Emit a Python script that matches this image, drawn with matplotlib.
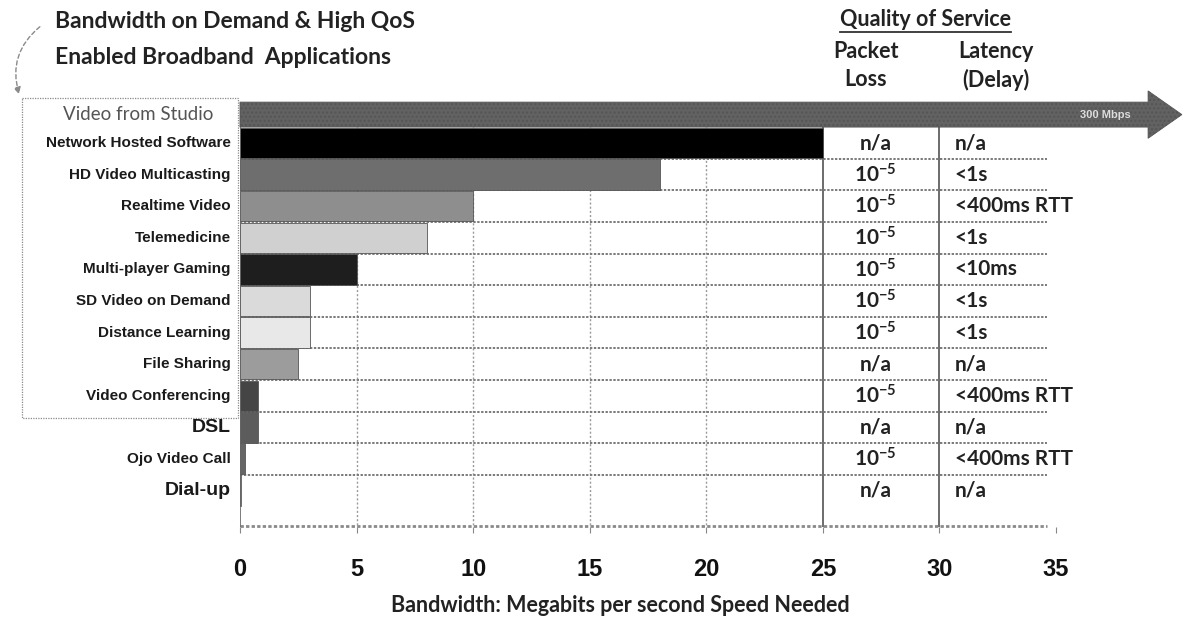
"""Bandwidth on demand: applications vs. speed needed, with QoS table."""
import matplotlib
matplotlib.use("Agg")
import matplotlib.pyplot as plt
import numpy as np
from matplotlib.lines import Line2D
from matplotlib.patches import FancyArrow, Rectangle

plt.rcParams["mathtext.fontset"] = "custom"
plt.rcParams["mathtext.bf"] = "Lato:bold"
plt.rcParams["mathtext.rm"] = "Lato:bold"
plt.rcParams["mathtext.default"] = "bf"

# ---- data -----------------------------------------------------------------
apps = [
    "Network Hosted Software", "HD Video Multicasting", "Realtime Video",
    "Telemedicine", "Multi-player Gaming", "SD Video on Demand",
    "Distance Learning", "File Sharing", "Video Conferencing", "DSL",
    "Ojo Video Call", "Dial-up",
]
mbps = [25, 18, 10, 8, 5, 3, 3, 2.5, 0.77, 0.77, 0.2, 0.056]
bar_colors = ["#000000", "#6e6e6e", "#8e8e8e", "#d0d0d0", "#1e1e1e", "#dadada",
              "#e8e8e8", "#9c9c9c", "#454545", "#5c5c5c", "#666666", "#ffffff"]
packet_loss = ["n/a", "10-5", "10-5", "10-5", "10-5", "10-5", "10-5",
               "n/a", "10-5", "n/a", "10-5", "n/a"]
latency = ["n/a", "<1s", "<400ms RTT", "<1s", "<10ms", "<1s", "<1s",
           "n/a", "<400ms RTT", "n/a", "<400ms RTT", "n/a"]
big_labels = {"DSL", "Dial-up"}
boxed_last = "Video Conferencing"

studio_label = "Video from Studio"
studio_mbps = 300          # off the scale, drawn as a capped arrow
studio_cap = 40.4          # where the arrow tip is drawn (axis units)
x_ticks = [0, 5, 10, 15, 20, 25, 30, 35]

# ---- figure ----------------------------------------------------------------
W, H = 1195, 618
fig = plt.figure(figsize=(W / 100, H / 100), dpi=100)
ax = fig.add_axes([240 / W, 1 - 527 / H, 816 / W, 432 / H])
ax.set_xlim(0, 35)
ax.set_ylim(12.15, -1.52)
for s in ax.spines.values():
    s.set_visible(False)

y = np.arange(len(apps))
studio_y = -0.9
bottom = ax.get_ylim()[0]
line_end = 34.6

# grid / table lines
ax.vlines([5, 10, 15, 20], -0.5, bottom, colors="#9a9a9a", lw=1.0,
          linestyles=(0, (1.5, 1.5)), zorder=1)
ax.vlines([25, 30], -0.5, bottom, colors="#444444", lw=1.1, zorder=1)
ax.hlines(y[:-1] + 0.5, 0, line_end, colors="#7a7a7a", lw=1.4,
          linestyles=(0, (1.2, 0.8)), zorder=1)
ax.hlines(bottom - 0.02, 0, line_end, colors="#8a8a8a", lw=2.0,
          linestyles=(0, (1.2, 0.8)), zorder=1, clip_on=False)
ax.vlines(0, -0.5, bottom, colors="#666666", lw=1.2, zorder=4)

# bars
ax.barh(y, mbps, height=0.96, color=bar_colors, edgecolor="#555555",
        linewidth=0.6, zorder=3)

# studio arrow (300 Mbps, off scale)
arrow = FancyArrow(0, studio_y, min(studio_mbps, studio_cap), 0, width=0.79,
                   head_width=1.5, head_length=1.45, length_includes_head=True,
                   facecolor="#626262", edgecolor="#555555", lw=0.6,
                   hatch="....", clip_on=False, zorder=3)
ax.add_patch(arrow)
ax.text(37.1, studio_y, f"{studio_mbps} Mbps", ha="center", va="center",
        color="#dddddd", fontsize=8, fontweight="bold",
        family="Liberation Sans", zorder=5, clip_on=False)

# row labels
for yi, name in zip(y, apps):
    ax.text(-0.4, yi, name, ha="right", va="center",
            fontsize=14 if name in big_labels else 11, fontweight="bold",
            family="Liberation Sans", color="#1a1a1a", clip_on=False)
ax.text(-4.38, studio_y, studio_label, ha="center", va="center",
        fontsize=13.5, family="Lato", color="#555555", clip_on=False)

# dotted box around the application labels
box_bottom = apps.index(boxed_last) + 0.7
ax.add_patch(Rectangle((-9.35, -1.42), 9.27, box_bottom + 1.42, fill=False,
                       edgecolor="#8a8a8a", lw=0.9, linestyle=(0, (1, 1)),
                       clip_on=False, zorder=2))

# QoS table text
for yi, pl, lat in zip(y, packet_loss, latency):
    txt = r"10$^{-5}$" if pl == "10-5" else pl
    ax.text(27.25, yi, txt, ha="center", va="center", fontsize=15,
            fontweight="bold", family="Lato", color="#222222")
    ax.text(30.65, yi, lat, ha="left", va="center", fontsize=15,
            fontweight="bold", family="Lato", color="#222222")

# x axis
ax.set_xticks(x_ticks)
ax.set_yticks([])
ax.tick_params(axis="x", length=4, color="#888888", pad=18,
               labelsize=17, labelcolor="#111111")
for lab in ax.get_xticklabels():
    lab.set_fontweight("bold")
    lab.set_family("Liberation Sans")

fig.text(620 / W, 1 - 605 / H, "Bandwidth: Megabits per second Speed Needed",
         ha="center", va="center", fontsize=15.5, fontweight="bold",
         family="Lato", color="#222222")

# titles
hdr = dict(fontweight="bold", family="Lato", color="#222222")
fig.text(55 / W, 1 - 22 / H, "Bandwidth on Demand & High QoS", ha="left",
         va="center", fontsize=16.5, **hdr)
fig.text(55 / W, 1 - 57 / H, "Enabled Broadband  Applications", ha="left",
         va="center", fontsize=16.5, **hdr)
qos = fig.text(925 / W, 1 - 20 / H, "Quality of Service", ha="center",
               va="center", fontsize=15.5, **hdr)
fig.text(866 / W, 1 - 52 / H, "Packet", ha="center", va="center",
         fontsize=15.5, **hdr)
fig.text(866 / W, 1 - 80 / H, "Loss", ha="center", va="center",
         fontsize=15.5, **hdr)
fig.text(996 / W, 1 - 52 / H, "Latency", ha="center", va="center",
         fontsize=15.5, **hdr)
fig.text(996 / W, 1 - 80 / H, "(Delay)", ha="center", va="center",
         fontsize=15.5, **hdr)

fig.canvas.draw()
bb = qos.get_window_extent()
fig.add_artist(Line2D([bb.x0 / W, bb.x1 / W], [(bb.y0 - 1) / H] * 2,
                      color="#333333", lw=1.3))

# curved dashed pointer at top left
ax.annotate("", xy=(20, H - 97), xycoords="figure pixels",
            xytext=(42, H - 25), textcoords="figure pixels",
            arrowprops=dict(arrowstyle="-|>", color="#8a8a8a", lw=1.0,
                            linestyle=(0, (3, 2)), mutation_scale=10,
                            connectionstyle="arc3,rad=0.35"))

fig.savefig("out.png", dpi=100)
plt.close(fig)
